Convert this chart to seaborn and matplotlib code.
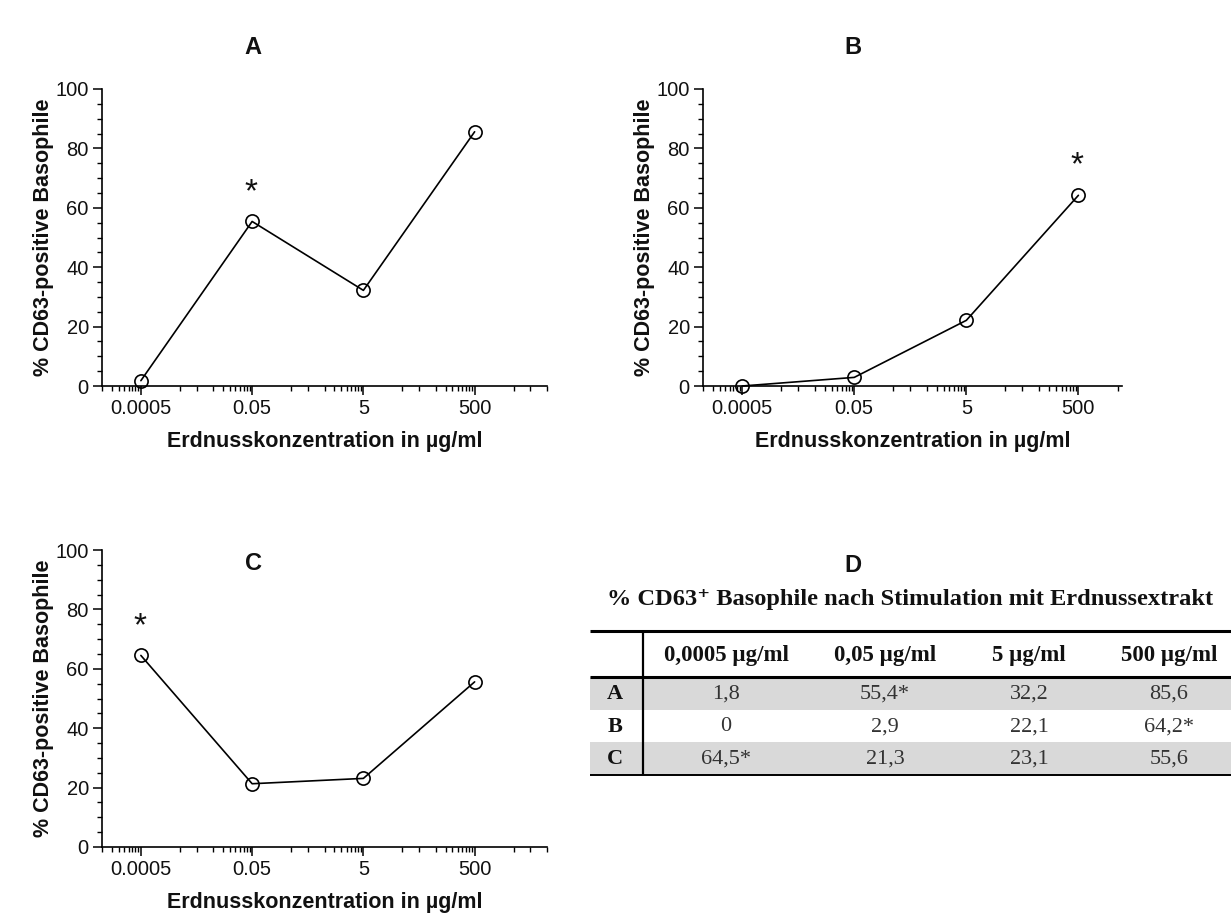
import numpy as np
import pandas as pd
import matplotlib
matplotlib.use("Agg")
import matplotlib.pyplot as plt
import seaborn as sns
from matplotlib.ticker import FixedLocator, FixedFormatter, MultipleLocator, NullFormatter

# ---------------- data ----------------
concentrations = [0.0005, 0.05, 5, 500]
conc_tick_labels = ["0.0005", "0.05", "5", "500"]
values_A = [1.8, 55.4, 32.2, 85.6]
values_B = [0, 2.9, 22.1, 64.2]
values_C = [64.5, 21.3, 23.1, 55.6]
significant_A = [1]
significant_B = [3]
significant_C = [0]
panel_names = ["A", "B", "C"]
table_headers = ["0,0005 µg/ml", "0,05 µg/ml", "5 µg/ml", "500 µg/ml"]
table_title = "% CD63\u207a Basophile nach Stimulation mit Erdnussextrakt"
y_label = "% CD63-positive Basophile"
x_label = "Erdnusskonzentration in µg/ml"

sns.set_theme(style="ticks")
plt.rcParams["font.family"] = ["Liberation Sans", "DejaVu Sans"]

W, H = 1231, 924
fig = plt.figure(figsize=(W / 100, H / 100), dpi=100)
fig.patch.set_facecolor("white")


def px_axes(left, top, right, bottom):
    return fig.add_axes([left / W, 1 - bottom / H, (right - left) / W, (bottom - top) / H])


def draw_panel(ax, values, sig, title, title_xy, xmax):
    df = pd.DataFrame({"conc": concentrations, "val": values})
    sns.lineplot(data=df, x="conc", y="val", ax=ax, color="black", linewidth=1.2,
                 marker="o", markersize=9.5, markerfacecolor="none",
                 markeredgecolor="black", markeredgewidth=1.2, clip_on=False)
    ax.set_xscale("log")
    ax.set_xlim(1e-4, xmax)
    ax.set_ylim(0, 100)
    ax.set_facecolor("white")
    for s in ["top", "right"]:
        ax.spines[s].set_visible(False)
    for s in ["left", "bottom"]:
        ax.spines[s].set_linewidth(1.2)
        ax.spines[s].set_color("black")
    ax.xaxis.set_major_locator(FixedLocator(concentrations))
    ax.xaxis.set_major_formatter(FixedFormatter(conc_tick_labels))
    bases = np.array([5e-6] + concentrations + [5e4])
    minor = np.concatenate([[b * 5] + [b * 10 * k for k in range(1, 10)] for b in bases])
    minor = minor[(minor >= 1e-4 * 0.999) & (minor <= xmax * 1.001)]
    ax.xaxis.set_minor_locator(FixedLocator(minor))
    ax.xaxis.set_minor_formatter(NullFormatter())
    ax.yaxis.set_major_locator(MultipleLocator(20))
    ax.yaxis.set_minor_locator(MultipleLocator(5))
    ax.yaxis.set_minor_formatter(NullFormatter())
    ax.tick_params(axis="both", which="major", direction="out", length=6.5, width=1.1,
                   labelsize=14.5, pad=3, color="black", labelcolor="#111111")
    ax.tick_params(axis="both", which="minor", direction="out", length=3.6, width=1.0,
                   color="black")
    ax.set_xlabel(x_label, fontsize=15.5, fontweight="bold", labelpad=9, color="#111111")
    ax.set_ylabel(y_label, fontsize=15.5, fontweight="bold", labelpad=1, color="#111111")
    for i in sig:
        ax.annotate("*", xy=(concentrations[i], values[i]), xytext=(-1, 21),
                    textcoords="offset points", ha="center", va="center",
                    fontsize=24, color="#111111")
    fig.text(title_xy[0] / W, 1 - title_xy[1] / H, title, ha="center", va="center",
             fontsize=17, fontweight="bold", color="#111111")


axA = px_axes(102, 89, 547, 386)
axB = px_axes(703, 89, 1122, 386)
axC = px_axes(102, 550, 547, 847)
draw_panel(axA, values_A, significant_A, panel_names[0], (253, 48), 1e4)
draw_panel(axB, values_B, significant_B, panel_names[1], (853, 48), 3000)
draw_panel(axC, values_C, significant_C, panel_names[2], (253, 563), 1e4)
fig.text(853 / W, 1 - 565 / H, "D", ha="center", va="center", fontsize=17,
         fontweight="bold", color="#111111")

# ---------------- table (panel D) ----------------
axT = fig.add_axes([0, 0, 1, 1], zorder=-1)
axT.set_xlim(0, W)
axT.set_ylim(H, 0)
axT.axis("off")

serif = ["Liberation Serif", "DejaVu Serif"]
row_values = [values_A, values_B, values_C]
row_sig = [significant_A, significant_B, significant_C]

x0, x1, xv = 590, W, 643
y_top, y_head = 631, 677
row_h = 32.5
col_x = [726, 885, 1029, 1169]
grey = "#d9d9d9"

for r in range(3):
    yt = y_head + r * row_h
    if r % 2 == 0:
        axT.fill_between([x0, x1], yt, yt + row_h, color=grey, lw=0)
    axT.text(615, yt + row_h / 2 + 1, panel_names[r], ha="center", va="center",
             family=serif, fontweight="bold", fontsize=16, color="#111111")
    for c in range(4):
        v = row_values[r][c]
        s = (f"{v:g}").replace(".", ",") + ("*" if c in row_sig[r] else "")
        axT.text(col_x[c], yt + row_h / 2 + 1, s, ha="center", va="center",
                 family=serif, fontsize=16, color="#333333")

y_bot = y_head + 3 * row_h
for c in range(4):
    axT.text(col_x[c], (y_top + y_head) / 2 + 1, table_headers[c], ha="center", va="center",
             family=serif, fontweight="bold", fontsize=16.5, color="#111111")

axT.plot([x0, x1], [y_top, y_top], color="black", lw=2.2, solid_capstyle="butt")
axT.plot([x0, x1], [y_head, y_head], color="black", lw=2.2, solid_capstyle="butt")
axT.plot([x0, x1], [y_bot, y_bot], color="black", lw=1.4, solid_capstyle="butt")
axT.plot([xv, xv], [y_top, y_bot], color="black", lw=1.6, solid_capstyle="butt")

ttl = axT.text(910, 599, table_title, ha="center", va="center", family=serif,
               fontweight="bold", fontsize=18, color="#111111")
fig.canvas.draw()
bb = ttl.get_window_extent()
ttl.set_fontsize(18 * 606 / bb.width)

fig.savefig("out.png", dpi=100, facecolor="white")
